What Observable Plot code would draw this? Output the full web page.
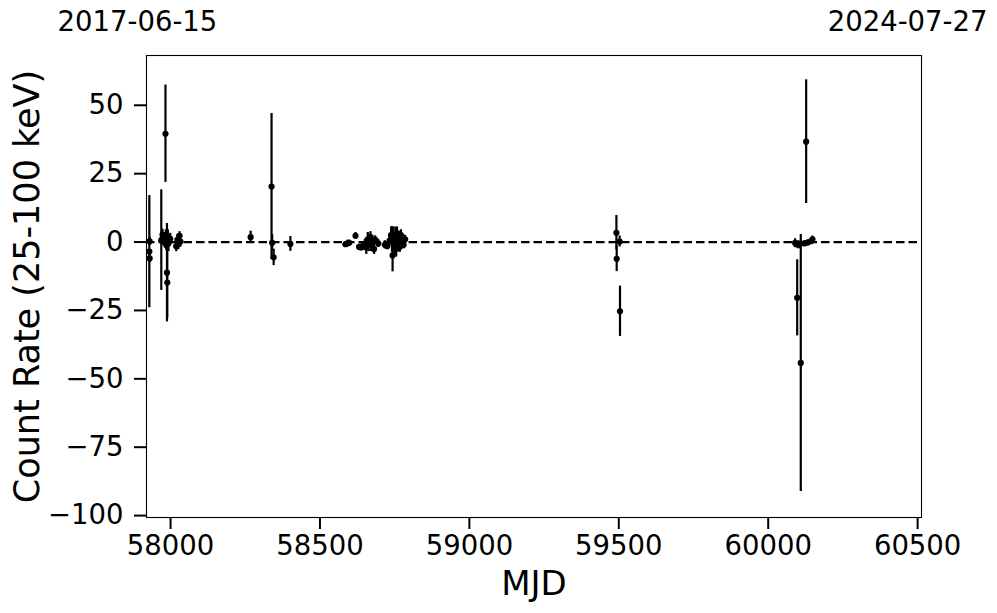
<!DOCTYPE html>
<html>
<head>
<meta charset="utf-8">
<script src="https://cdn.jsdelivr.net/npm/d3@7"></script>
<script src="https://cdn.jsdelivr.net/npm/@observablehq/plot@0.6"></script>
<style>
  html, body { margin: 0; padding: 0; background: white; }
</style>
</head>
<body>
<div id="chart"></div>
<script>
// Observation dates (MJD)
const mjd = [
  57929, 57930, 57930, 57969, 57973, 57976, 57983, 57984, 57986, 57988, 57989, 57991, 57993, 57999,
  58019, 58023, 58026, 58030, 58033,
  58268, 58338, 58340, 58345, 58401,
  58585, 58592, 58598, 58619, 58631, 58637, 58643, 58650, 58655, 58660, 58663, 58669, 58671, 58675,
  58681, 58685, 58695, 58717, 58725, 58733, 58738, 58741, 58743, 58746, 58749, 58753, 58755, 58758,
  58761, 58764, 58767, 58771, 58775, 58780, 58785,
  59492, 59493, 59503, 59504,
  60090, 60093, 60097, 60101, 60109, 60121, 60127, 60132, 60143, 60148
];
// Count rate (25-100 keV)
const rate = [
  -3.5, 0.3, -6.0, 0.7, 2.7, 0.2, 39.6, 2.0, -1.2, -11.2, -14.8, 1.5, -0.5, 1.2,
  -1.5, 0.8, -0.8, 2.3, 0.2,
  1.8, 20.3, -0.3, -5.6, -0.7,
  -0.8, -0.5, -0.3, 2.3, -1.8, -2.0, -1.5, -1.0, -2.0, 1.0, -0.5, 1.8, -1.0, 0.5,
  -2.5, 0.8, -0.5, -1.0, -1.5, 0.5, 2.5, 1.0, -4.9, 2.0, -1.5, 1.5, -2.5, 3.0,
  -0.3, 1.5, -1.8, 2.5, 0.0, -1.0, 1.0,
  3.4, -6.1, 0.2, -25.3,
  -0.3, -0.8, -20.4, -1.0, -44.2, -0.5, 36.7, -0.2, 0.3, 1.0
];
// 1-sigma uncertainties
const err = [
  20.5, 1.5, 1.5, 18.4, 2.0, 1.5, 17.8, 2.5, 2.0, 18.0, 13.0, 3.0, 3.0, 2.0,
  2.0, 2.0, 2.0, 1.5, 2.0,
  2.2, 26.7, 3.0, 3.0, 2.7,
  1.0, 1.2, 1.0, 1.2, 1.0, 1.2, 1.5, 2.0, 2.5, 2.5, 3.0, 2.0, 2.5, 2.0,
  2.0, 1.5, 1.5, 1.5, 1.2, 2.0, 3.0, 4.7, 6.0, 3.5, 3.5, 4.0, 3.0, 2.5,
  3.0, 2.5, 2.0, 2.0, 2.0, 1.5, 1.5,
  6.3, 4.7, 2.0, 9.2,
  1.5, 1.0, 13.9, 1.5, 47.0, 1.0, 22.6, 1.0, 1.0, 1.2
];
const xTicks = [58000, 58500, 59000, 59500, 60000, 60500];
const yTicks = [-100, -75, -50, -25, 0, 25, 50];
const startLabel = "2017-06-15";
const endLabel = "2024-07-27";

const data = mjd.map((m, i) => ({ mjd: m, rate: rate[i], lo: rate[i] - err[i], hi: rate[i] + err[i] }));

const chart = Plot.plot({
  width: 997,
  height: 613,
  marginLeft: 146,
  marginRight: 76,
  marginTop: 55,
  marginBottom: 96,
  style: { fontFamily: "DejaVu Sans", fontSize: "27.5px", color: "black", background: "white" },
  x: { domain: [57919.5, 60513], label: null },
  y: { domain: [-100.7, 68.2], label: null },
  marks: [
    Plot.frame({ stroke: "black", strokeWidth: 1.1 }),
    Plot.axisX({ ticks: xTicks, tickFormat: d => String(d), tickSize: 12, tickPadding: 6, strokeWidth: 2, fontSize: 27.5, label: null }),
    Plot.axisY({ ticks: yTicks, tickSize: 12, tickPadding: 11, strokeWidth: 2, fontSize: 27.5, label: null }),
    Plot.ruleY([0], { stroke: "black", strokeWidth: 2.2, strokeDasharray: "8.5,4" }),
    Plot.ruleX(data, { x: "mjd", y1: "lo", y2: "hi", stroke: "black", strokeWidth: 2.2 }),
    Plot.dot(data, { x: "mjd", y: "rate", r: 3.1, fill: "black", stroke: "none" }),
    Plot.text(["Count Rate (25-100 keV)"], { frameAnchor: "left", textAnchor: "middle", lineAnchor: "middle", rotate: -90, dx: -119, fontSize: 35 }),
    Plot.text(["MJD"], { frameAnchor: "bottom", textAnchor: "middle", lineAnchor: "middle", dy: 67, fontSize: 34 }),
    Plot.text([startLabel], { frameAnchor: "top-left", textAnchor: "start", lineAnchor: "middle", dx: -89, dy: -33, fontSize: 27.5 }),
    Plot.text([endLabel], { frameAnchor: "top-right", textAnchor: "end", lineAnchor: "middle", dx: 66, dy: -33, fontSize: 27.5 })
  ]
});
document.getElementById("chart").appendChild(chart);
</script>
</body>
</html>
